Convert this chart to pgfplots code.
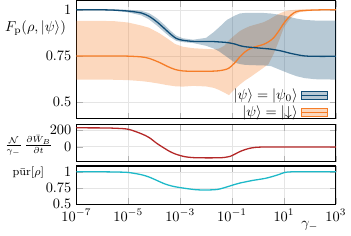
\documentclass[border=0pt]{standalone}
\usepackage{pgfplots}
\usepackage{pgfplotstable}
\pgfplotsset{compat=1.18}
\usepgfplotslibrary{fillbetween}
\definecolor{cblue}{RGB}{15,76,117}
\definecolor{corange}{RGB}{245,125,40}
\definecolor{cred}{RGB}{180,40,40}
\definecolor{ccyan}{RGB}{30,185,200}

\pgfplotstableread{
x mean lo hi
-7 1.000 0.997 1.003
-6 1.000 0.997 1.003
-5.5 0.998 0.994 1.002
-5 0.993 0.986 1.000
-4.5 0.983 0.970 0.995
-4.2 0.965 0.948 0.982
-3.9 0.935 0.915 0.955
-3.6 0.898 0.878 0.918
-3.4 0.872 0.854 0.890
-3.15 0.845 0.832 0.860
-2.9 0.835 0.825 0.846
-2.5 0.829 0.820 0.838
-2.0 0.828 0.805 0.848
-1.7 0.828 0.790 0.880
-1.5 0.826 0.775 0.905
-1.2 0.823 0.745 0.945
-0.9 0.815 0.715 0.968
-0.7 0.806 0.706 0.980
-0.5 0.800 0.702 0.983
-0.2 0.796 0.700 0.984
0.2 0.791 0.699 0.983
0.5 0.787 0.695 0.980
0.9 0.777 0.672 0.972
1.2 0.766 0.655 0.962
1.5 0.757 0.640 0.952
1.8 0.750 0.630 0.945
2.2 0.748 0.624 0.942
3 0.748 0.622 0.941
}\bluetab

\pgfplotstableread{
x mean lo hi
-7 0.750 0.622 0.940
-6 0.750 0.622 0.940
-5.5 0.750 0.621 0.938
-5 0.749 0.619 0.931
-4.5 0.745 0.614 0.915
-4.2 0.737 0.609 0.903
-3.8 0.715 0.600 0.873
-3.5 0.694 0.592 0.845
-3.2 0.677 0.586 0.815
-2.9 0.669 0.584 0.800
-2.5 0.667 0.588 0.792
-2 0.667 0.585 0.788
-1.7 0.668 0.577 0.786
-1.5 0.670 0.566 0.790
-1.3 0.675 0.552 0.805
-1.12 0.684 0.538 0.835
-0.9 0.712 0.570 0.862
-0.7 0.745 0.595 0.885
-0.5 0.772 0.617 0.900
-0.3 0.790 0.635 0.912
-0.1 0.800 0.655 0.920
0.2 0.812 0.685 0.932
0.4 0.826 0.705 0.945
0.6 0.848 0.760 0.962
0.8 0.885 0.830 0.978
1.0 0.928 0.905 0.990
1.2 0.962 0.945 0.997
1.4 0.985 0.972 1.000
1.6 0.994 0.987 1.002
2 0.998 0.994 1.003
2.5 1.000 0.997 1.003
3 1.000 0.997 1.003
}\orangetab

\pgfplotstableread{
x y
-7 225
-6 224
-5.5 220
-5 208
-4.5 155
-4.2 110
-3.9 40
-3.6 -20
-3.4 -57
-3.2 -85
-3.0 -105
-2.8 -120
-2.5 -130
-2.0 -133
-1.5 -132
-1.3 -128
-1.06 -114
-0.9 -90
-0.69 -57
-0.5 -35
-0.32 -19
-0.1 -8
0.2 -4
1 -3
2 -3
3 -3
}\redtab

\pgfplotstableread{
x y
-7 1.0
-6 1.0
-5.5 0.997
-5 0.99
-4.5 0.956
-4.2 0.92
-3.9 0.868
-3.6 0.815
-3.3 0.779
-3 0.757
-2.78 0.744
-2.4 0.725
-2 0.72
-1.55 0.73
-1.18 0.77
-0.9 0.805
-0.69 0.828
-0.4 0.852
-0.2 0.868
0.29 0.9
0.66 0.94
0.85 0.965
1.03 0.99
1.3 1.0
2 1.0
3 1.0
}\cyantab

\pgfplotsset{
  myaxis/.style={
    width=180.7pt, scale only axis,
    xmin=-7, xmax=3,
    xtick={-7,-5,-3,-1,1,3},
    grid=major,
    major grid style={gray!20, line width=0.4pt},
    axis line style={line width=0.8pt},
    tick style={gray!60},
  }
}

\begin{document}
\begin{tikzpicture}
\begin{axis}[myaxis, name=top,
  height=82.3pt,
  ymin=0.41, ymax=1.05,
  ytick={0.5,0.75,1},
  xticklabels={},
  every axis y label/.style={at={(rel axis cs:0,0.77)}, anchor=east, xshift=-3.8pt},
  ylabel={$F_{\mathrm{p}}(\rho,|\psi\rangle)$},
  legend style={at={(rel axis cs:0.975,-0.04)}, anchor=south east, draw=none, fill=none,
    legend plot pos=right, legend cell align=right, row sep=-1pt, inner sep=1pt},
]
\addlegendimage{legend image code/.code={\fill[cblue, fill opacity=0.3] (0pt,-2.7pt) rectangle (18pt,2.7pt); \draw[cblue, line width=0.9pt] (0pt,0pt) -- (18pt,0pt);}}
\addlegendentry{$|\psi\rangle=|\psi_0\rangle$}
\addlegendimage{legend image code/.code={\fill[corange, fill opacity=0.3] (0pt,-2.7pt) rectangle (18pt,2.7pt); \draw[corange, line width=0.9pt] (0pt,0pt) -- (18pt,0pt);}}
\addlegendentry{$|\psi\rangle=|{\downarrow}\rangle$}

\addplot[name path=ohi, draw=none, forget plot] table[x=x, y=hi]{\orangetab};
\addplot[name path=olo, draw=none, forget plot] table[x=x, y=lo]{\orangetab};
\addplot[fill=corange, fill opacity=0.3, draw=none, forget plot] fill between[of=ohi and olo];
\addplot[name path=bhi, draw=none, forget plot] table[x=x, y=hi]{\bluetab};
\addplot[name path=blo, draw=none, forget plot] table[x=x, y=lo]{\bluetab};
\addplot[fill=cblue, fill opacity=0.3, draw=none, forget plot] fill between[of=bhi and blo];
\addplot[corange, line width=0.9pt, smooth, forget plot] table[x=x, y=mean]{\orangetab};
\addplot[cblue, line width=0.9pt, smooth, forget plot] table[x=x, y=mean]{\bluetab};
\end{axis}

\begin{axis}[myaxis, name=mid,
  at={(top.south west)}, anchor=north west, yshift=-4pt,
  height=26pt,
  ymin=-180, ymax=265,
  ytick={0,200},
  xticklabels={},
  every axis y label/.style={at={(rel axis cs:0,0.43)}, anchor=east, xshift=-13pt, font=\small},
  ylabel={$\frac{\mathcal{N}}{\gamma_-}\,\frac{\partial \bar{W}_B}{\partial t}$},
]
\addplot[cred, line width=0.9pt, smooth] table[x=x, y=y]{\redtab};
\end{axis}

\begin{axis}[myaxis, name=bot,
  at={(mid.south west)}, anchor=north west, yshift=-2.9pt,
  height=26.7pt,
  ymin=0.5, ymax=1.09,
  ytick={0.5,0.75,1},
  xticklabels={$10^{-7}$,$10^{-5}$,$10^{-3}$,$10^{-1}$,$10^{1}$,$10^{3}$},
  every axis y label/.style={at={(rel axis cs:0,0.82)}, anchor=east, xshift=-19pt, font=\footnotesize},
  ylabel={$\mathrm{p\bar{u}r}[\rho]$},
  every axis x label/.style={at={(rel axis cs:0.9,0)}, anchor=center, yshift=-15pt},
  xlabel={$\gamma_-$},
]
\addplot[ccyan, line width=0.9pt, smooth] table[x=x, y=y]{\cyantab};
\end{axis}
\end{tikzpicture}
\end{document}
